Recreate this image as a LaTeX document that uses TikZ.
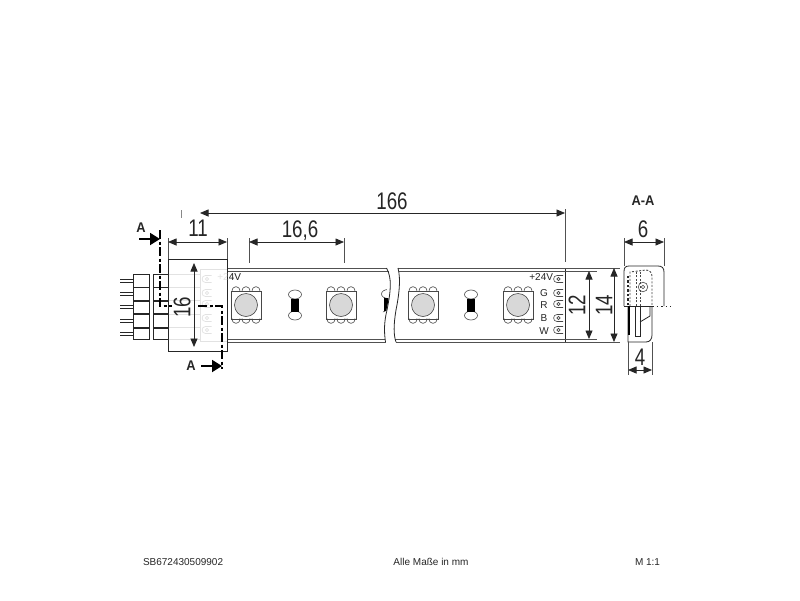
\documentclass[tikz,border=0pt]{standalone}
\usepackage{fontspec}
\setmainfont{Liberation Sans}
\newfontfamily\dimfont[FakeStretch=0.78]{Liberation Sans}
\newfontfamily\sectfont[FakeStretch=0.92]{Liberation Sans Bold}
\usetikzlibrary{arrows.meta}
\definecolor{ink}{HTML}{262626}
\definecolor{ledgray}{HTML}{D8D8D8}
\definecolor{faint}{HTML}{E2E2E2}
\tikzset{
  x=1pt,y=-1pt,
  every node/.style={inner sep=0pt,outer sep=0pt,text=ink},
  outline/.style={draw=ink,line width=0.8pt},
  thin line/.style={draw=ink!85,line width=0.6pt},
  strip line/.style={draw=ink!80,line width=1pt},
  dimline/.style={draw=ink,line width=0.8pt,{Triangle[length=8.5pt,width=7pt]}-{Triangle[length=8.5pt,width=7pt]}},
  extline/.style={draw=ink!80,line width=0.7pt},
  dimtext/.style={font=\dimfont\fontsize{24}{24}\selectfont},
  small label/.style={font=\fontsize{10}{10}\selectfont},
  foot/.style={font=\fontsize{10}{11}\selectfont},
  cut/.style={draw=black,line width=1.8pt,dash pattern=on 9pt off 2.5pt on 3pt off 2.5pt},
  cutmark/.style={draw=black,line width=1.8pt,-{Triangle[length=10pt,width=12pt]}},
  sect/.style={font=\sectfont\fontsize{14}{14}\selectfont},
  hidden/.style={draw=ink!85,line width=0.9pt,dash pattern=on 2pt off 1.6pt},
  led/.pic={
    \foreach \dx in {-10,0,10}{
      \draw[thin line] (\dx-4,-13.5) .. controls (\dx-4,-20) and (\dx+4,-20) .. (\dx+4,-13.5);
      \draw[thin line] (\dx-4,13.5) .. controls (\dx-4,20) and (\dx+4,20) .. (\dx+4,13.5);
    }
    \draw[thin line] (-15,-14) rectangle (15,14);
    \draw[thin line,fill=ledgray] (0,0) circle (11.5);
  },
  resistor/.pic={
    \draw[thin line,fill=white] (0,-10.5) ellipse (6.5 and 4.5);
    \draw[thin line,fill=white] (0,10.5) ellipse (6.5 and 4.5);
    \fill[black] (-4,-6.5) rectangle (4,6.5);
  },
  terminal/.pic={
    \draw[thin line] (4.5,-3.5) -- (-1.5,-3.5) .. controls (-6,-3.5) and (-6,3.5) .. (-1.5,3.5) -- (4.5,3.5);
    \draw[thin line] (0,0) circle (1.6);
  },
  faintterminal/.pic={
    \draw[draw=faint,line width=0.7pt] (4.5,-3.5) -- (-1.5,-3.5) .. controls (-6,-3.5) and (-6,3.5) .. (-1.5,3.5) -- (4.5,3.5);
    \draw[draw=faint,line width=0.7pt] (0,0) circle (1.6);
  },
}
\begin{document}
\begin{tikzpicture}
\useasboundingbox[fill=white] (0,0) rectangle (800,600);

% --- strip, left part
\draw[strip line] (227,268) -- (386.5,268) (227,271.5) -- (389,271.5);
\draw[strip line] (227,339) -- (385,339) (227,342) -- (385.5,342);
\draw[outline] (386.5,268) .. controls (392,278) and (391,290) .. (387,310) .. controls (384,322) and (384,332) .. (385.5,342);
% --- strip, right part
\draw[strip line] (398,268) -- (565,268) (399,271.5) -- (565,271.5);
\draw[strip line] (394.5,339) -- (565,339) (395.5,342) -- (565,342);
\draw[outline] (398,268) .. controls (401,280) and (399,295) .. (396,310) .. controls (393.5,325) and (393.5,335) .. (396,342);
\draw[outline] (565,268) -- (565,342);

% --- LEDs and resistors
\foreach \cx in {246,341,423,518} \pic at (\cx,305) {led};
\foreach \cx in {295,471} \pic at (\cx,305) {resistor};
\begin{scope}
  \clip (375,285) -- (386,285) -- (388.5,300) -- (386,312) -- (375,312) -- cycle;
  \pic at (388,304.5) {resistor};
\end{scope}

% --- terminals and their labels
\foreach \ty in {279,293,304,318,330} \pic at (558.5,\ty) {terminal};
\node[small label,anchor=east] (lv) at (553,277) {+24V};
\node[small label] (lg) at (544,293) {G};
\node[small label] (lr) at (544,305) {R};
\node[small label] (lb) at (544,318) {B};
\node[small label] (lw) at (544,331) {W};

% --- connector
\foreach \rowtop/\rowbot in {274/287,287/300,301/313,314/327,328/339}{
  \draw[outline] (133.5,\rowtop) rectangle (149,\rowbot);
  \draw[outline] (153.5,\rowtop) rectangle (168,\rowbot);
  \draw[outline] (120,{(\rowtop+\rowbot)/2-1.5}) -- (133.5,{(\rowtop+\rowbot)/2-1.5})
                 (120,{(\rowtop+\rowbot)/2+1.5}) -- (133.5,{(\rowtop+\rowbot)/2+1.5});
}
\draw[outline,fill=white] (168,259) rectangle (227,351);
\foreach \ty in {279,293,304,318,330} \pic at (207,\ty) {faintterminal};
\foreach \ty in {274,287,300,314,327,339}{\draw[draw=faint,line width=0.6pt] (168.5,\ty) -- (200,\ty);}
\draw[draw=faint,line width=0.6pt] (200,269) -- (226.5,269) (200,341) -- (226.5,341) (200,269) -- (200,341);
\node[small label,anchor=east,text=faint] (lv3) at (241,277) {+24V};
\begin{scope}
  \clip (227.5,270) rectangle (245,285);
  \node[small label,anchor=east] (lv2) at (241,277) {+24V};
\end{scope}

% --- section line A-A
\draw[cut] (160,230) -- (160,306) -- (172,306);
\draw[cut] (198,306) -- (222,306) -- (222,369);
\draw[cutmark] (139,239) -- (160,239);
\draw[cutmark] (201,366) -- (222,366);
\node[sect] (aa) at (141,228) {A};
\node[sect] (ab) at (191,366) {A};

% --- side view
\draw[outline] (624,306) -- (624,272) .. controls (624,268) and (625,266) .. (629,266) -- (658,266) .. controls (662,266) and (664,268) .. (664,272) -- (664,306);
\draw[draw=ink,line width=0.7pt] (624,306) -- (652,306);
\draw[draw=ink,line width=0.7pt,dash pattern=on 1.5pt off 3pt] (652,306) -- (671,306);
\draw[outline] (628,306) -- (628,342) -- (646,342) .. controls (650,342) and (652,339) .. (652,335) -- (652,306);
\draw[draw=black,line width=1.5pt] (629,306) -- (629,335);
\draw[hidden] (630,306) -- (630,272) -- (646,270) .. controls (650,270) and (652,273) .. (652,277) -- (652,306);
\draw[draw=ink,line width=1.6pt,dash pattern=on 2.5pt off 2pt] (628,305) -- (628,276);
\draw[hidden] (636,306) -- (636,271) (640,306) -- (640,272);
\draw[thin line] (643,287) circle (4.8);
\draw[thin line] (643,287) circle (1.8);
\draw[outline] (635,306) -- (635,336) -- (640,336) -- (640,306);
\draw[outline] (640,322) -- (650,316) -- (650,306);

% --- dimension extension lines
\coordinate (a1) at (168,238); \coordinate (a2) at (168,259);
\coordinate (b1) at (227,238); \coordinate (b2) at (227,259);
\coordinate (c1) at (249,238); \coordinate (c2) at (249,263);
\coordinate (d1) at (344,238); \coordinate (d2) at (344,263);
\coordinate (e1) at (565,209); \coordinate (e2) at (565,262);
\coordinate (f1) at (624,238); \coordinate (f2) at (624,266);
\coordinate (g1) at (664,238); \coordinate (g2) at (664,266);
\coordinate (h1) at (628,342); \coordinate (h2) at (628,375);
\coordinate (i1) at (652,342); \coordinate (i2) at (652,375);
\coordinate (j1) at (565,271); \coordinate (j2) at (597,271);
\coordinate (k1) at (565,339); \coordinate (k2) at (597,339);
\coordinate (l1) at (565,268); \coordinate (l2) at (620,268);
\coordinate (m1) at (565,342); \coordinate (m2) at (620,342);
\foreach \p/\q in {a1/a2,b1/b2,c1/c2,d1/d2,e1/e2,f1/f2,g1/g2,h1/h2,i1/i2,j1/j2,k1/k2,l1/l2,m1/m2}
  \draw[extline] (\p) -- (\q);
\draw[draw=ink!55,line width=0.5pt] (181,210) -- (181,218);

% --- dimension lines
\coordinate (t1) at (200,213); \coordinate (t2) at (565,213);
\coordinate (u1) at (168,242); \coordinate (u2) at (227,242);
\coordinate (v1) at (249,242); \coordinate (v2) at (344,242);
\coordinate (w1) at (194,263); \coordinate (w2) at (194,347);
\coordinate (x1) at (589,271); \coordinate (x2) at (589,339);
\coordinate (y1) at (614,268); \coordinate (y2) at (614,342);
\coordinate (z1) at (624,242); \coordinate (z2) at (664,242);
\coordinate (q1) at (628,370); \coordinate (q2) at (652,370);
\foreach \p/\q in {t1/t2,u1/u2,v1/v2,w1/w2,x1/x2,y1/y2,z1/z2,q1/q2}
  \draw[dimline] (\p) -- (\q);

% --- dimension texts
\node[dimtext] (n166) at (392,201) {166};
\node[dimtext] (n11) at (198,228) {11};
\node[dimtext] (n166b) at (300,231) {16,6};
\node[dimtext,rotate=90] (n16) at (182,307) {16};
\node[dimtext,rotate=90] (n12) at (577,305) {12};
\node[dimtext,rotate=90] (n14) at (604,305) {14};
\node[dimtext] (n6) at (643,229) {6};
\node[dimtext] (n4) at (640,357) {4};
\node[sect] (nAA) at (643,201) {A-A};

% --- footer
\node[foot,anchor=west] (fa) at (143,562) {SB672430509902};
\node[foot] (fb) at (431,562) {Alle Maße in mm};
\node[foot] (fc) at (647.5,562) {M 1:1};
\end{tikzpicture}
\end{document}
